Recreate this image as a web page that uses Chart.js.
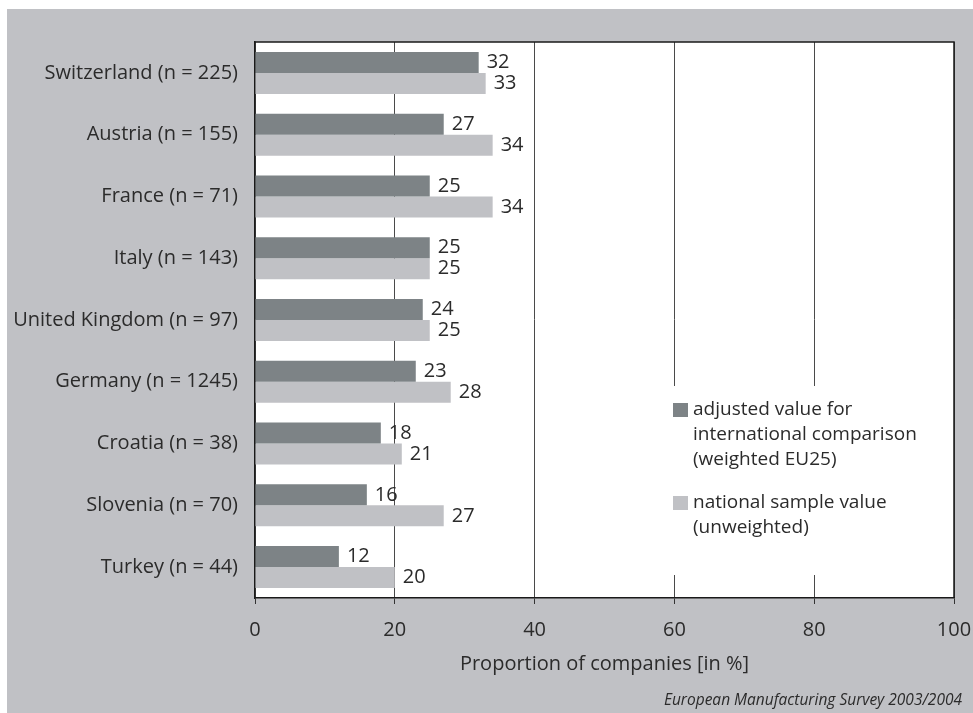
<!DOCTYPE html>
<html>
<head>
<meta charset="utf-8">
<script src="https://cdn.jsdelivr.net/npm/chart.js@4.4.1/dist/chart.umd.min.js"></script>
<style>
  html, body { margin: 0; padding: 0; background: #ffffff; }
  #wrap { width: 973px; height: 713px; position: relative; }
</style>
</head>
<body>
<div id="wrap"><canvas id="chart" width="973" height="713"></canvas></div>
<script>
// Countries with sample size, top to bottom
const categories = [
  'Switzerland (n = 225)',
  'Austria (n = 155)',
  'France (n = 71)',
  'Italy (n = 143)',
  'United Kingdom (n = 97)',
  'Germany (n = 1245)',
  'Croatia (n = 38)',
  'Slovenia (n = 70)',
  'Turkey (n = 44)'
];
// Adjusted value for international comparison (weighted EU25), in %
const adjustedValues = [32, 27, 25, 25, 24, 23, 18, 16, 12];
// National sample value (unweighted), in %
const nationalValues = [33, 34, 34, 25, 25, 28, 21, 27, 20];
const xTicks = [0, 20, 40, 60, 80, 100];
const legendLines = [
  ['adjusted value for', 'international comparison', '(weighted EU25)'],
  ['national sample value', '(unweighted)']
];
const axisTitle = 'Proportion of companies [in %]';
const sourceNote = 'European Manufacturing Survey 2003/2004';

const FONT = '"Open Sans", "Noto Sans", "DejaVu Sans", sans-serif';
const TEXT = '#2b2b2b';
const DARK = '#7d8386';
const LIGHT = '#c0c1c5';
const PANEL = '#c0c1c5';

const backgroundPlugin = {
  id: 'panelBackground',
  beforeDraw(chart) {
    const { ctx, chartArea: a } = chart;
    ctx.save();
    ctx.fillStyle = '#ffffff';
    ctx.fillRect(0, 0, chart.width, chart.height);
    ctx.fillStyle = PANEL;
    ctx.fillRect(7, 9, chart.width - 7, chart.height - 9);
    ctx.fillStyle = '#ffffff';
    ctx.fillRect(a.left, a.top, a.right - a.left, a.bottom - a.top);
    ctx.restore();
  }
};

const valueLabelPlugin = {
  id: 'valueLabels',
  afterDatasetsDraw(chart) {
    const { ctx } = chart;
    ctx.save();
    ctx.font = '20px ' + FONT;
    ctx.fillStyle = TEXT;
    ctx.textAlign = 'left';
    ctx.textBaseline = 'middle';
    chart.data.datasets.forEach((ds, di) => {
      chart.getDatasetMeta(di).data.forEach((bar, i) => {
        ctx.fillText(String(ds.data[i]), bar.x + 8, bar.y);
      });
    });
    ctx.restore();
  }
};

const overlayPlugin = {
  id: 'overlay',
  afterDraw(chart) {
    const { ctx, chartArea: a } = chart;
    ctx.save();
    // legend panel inside the plot
    ctx.fillStyle = '#ffffff';
    ctx.fillRect(660, 386, a.right - 661, 189);
    const colors = chart.data.datasets.map(d => d.backgroundColor);
    const starts = [410, 503];
    ctx.font = '19px ' + FONT;
    ctx.textAlign = 'left';
    ctx.textBaseline = 'middle';
    legendLines.forEach((lines, k) => {
      ctx.fillStyle = colors[k];
      ctx.fillRect(673, starts[k] - 7, 15, 14);
      ctx.fillStyle = TEXT;
      lines.forEach((line, j) => ctx.fillText(line, 693, starts[k] + j * 25));
    });
    // plot frame
    ctx.strokeStyle = '#1a1a1a';
    ctx.lineWidth = 1.5;
    ctx.beginPath();
    ctx.moveTo(a.left, a.top);
    ctx.lineTo(a.right, a.top);
    ctx.lineTo(a.right, a.bottom);
    ctx.stroke();
    // axis title and source
    ctx.fillStyle = TEXT;
    ctx.textAlign = 'center';
    ctx.font = '20px ' + FONT;
    ctx.fillText(axisTitle, (a.left + a.right) / 2, 664);
    ctx.font = 'italic 15.5px ' + FONT;
    ctx.textAlign = 'right';
    ctx.fillText(sourceNote, 962, 701);
    ctx.restore();
  }
};

new Chart(document.getElementById('chart'), {
  type: 'bar',
  data: {
    labels: categories,
    datasets: [
      { label: legendLines[0].join(' '), data: adjustedValues, backgroundColor: DARK,
        categoryPercentage: 0.68, barPercentage: 1.0 },
      { label: legendLines[1].join(' '), data: nationalValues, backgroundColor: LIGHT,
        categoryPercentage: 0.68, barPercentage: 1.0 }
    ]
  },
  options: {
    indexAxis: 'y',
    responsive: false,
    animation: false,
    devicePixelRatio: 1,
    layout: { padding: { top: 42, right: 19, left: 0, bottom: 0 } },
    plugins: { legend: { display: false }, tooltip: { enabled: false } },
    scales: {
      x: {
        min: 0, max: 100,
        afterBuildTicks(scale) { scale.ticks = xTicks.map(v => ({ value: v })); },
        afterFit(scale) { scale.height = 115; scale.paddingLeft = 0; scale.paddingRight = 0; },
        grid: { color: '#4a4a4a', lineWidth: 1, drawTicks: true, tickLength: 6, tickColor: '#333333' },
        border: { display: true, color: '#1a1a1a', width: 1.5 },
        ticks: { color: TEXT, font: { family: FONT, size: 20 }, padding: 14, maxRotation: 0 }
      },
      y: {
        afterFit(scale) { scale.width = 255; scale.paddingTop = 0; scale.paddingBottom = 0; },
        grid: { display: false },
        border: { display: true, color: '#1a1a1a', width: 1.5 },
        ticks: { color: TEXT, font: { family: FONT, size: 20 }, padding: 9 }
      }
    }
  },
  plugins: [backgroundPlugin, valueLabelPlugin, overlayPlugin]
});
</script>
</body>
</html>
